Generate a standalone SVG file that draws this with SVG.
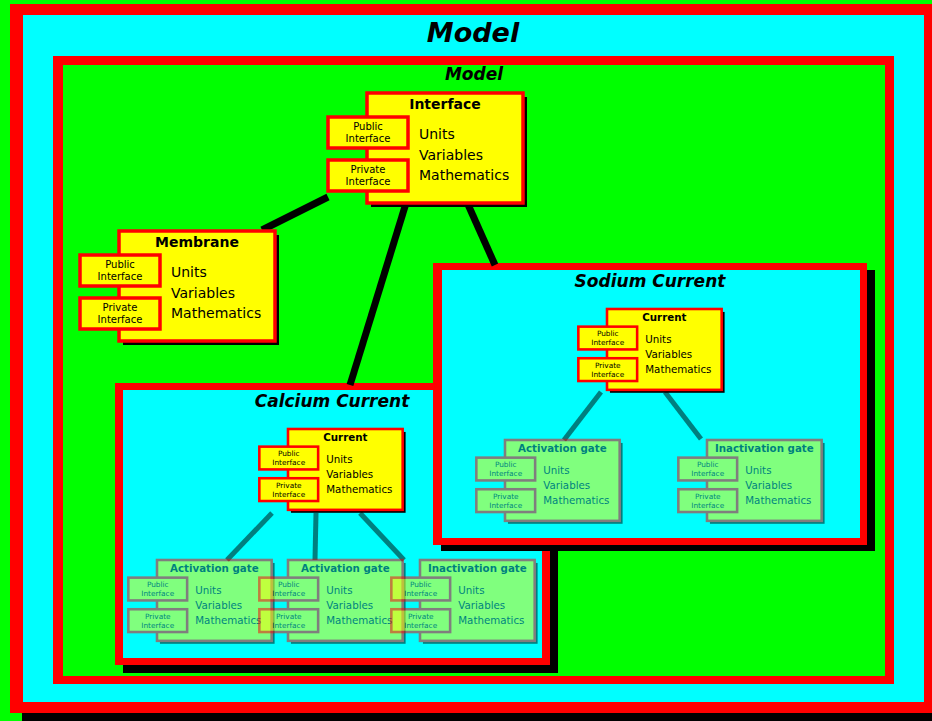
<svg xmlns="http://www.w3.org/2000/svg" width="932" height="721" viewBox="0 0 932 721">
<style>
.ctitle{font-family:"DejaVu Sans",sans-serif;font-weight:bold;font-style:italic;text-anchor:middle;fill:#000}
.ntitle{font-family:"DejaVu Sans",sans-serif;font-weight:bold;font-size:14px;text-anchor:middle;fill:#000}
.itxt{font-family:"DejaVu Sans",sans-serif;font-size:10px;text-anchor:middle;fill:#000}
.btxt{font-family:"DejaVu Sans",sans-serif;font-size:14px;fill:#000}
.shadow{fill:#000}
.main{fill:#ffff00;stroke:#ff0000;stroke-width:3.5}
.port{fill:#ffff00;stroke:#ff0000;stroke-width:3.5}
.link{stroke:#000;stroke-width:7;fill:none}
.sublink{stroke:#000;stroke-opacity:0.5;stroke-width:5;fill:none}
</style>
<rect x="0" y="0" width="932" height="721" fill="#00ff00"/>
<g id="outer-model">
<rect x="22" y="14" width="930" height="720" fill="#000"/>
<rect x="10" y="4" width="940" height="709" fill="#ff0000"/>
<rect x="23" y="15" width="901" height="687" fill="#00ffff"/>
<text class="ctitle" x="473" y="42" font-size="27">Model</text>
</g>
<g id="inner-model">
<rect x="53" y="56" width="841" height="628" fill="#ff0000"/>
<rect x="63" y="65" width="822" height="611" fill="#00ff00"/>
<text class="ctitle" x="474" y="80" font-size="17">Model</text>
</g>
<g id="calcium-current">
<rect x="123" y="391" width="435" height="282" fill="#000"/>
<rect x="115" y="383" width="435" height="282" fill="#ff0000"/>
<rect x="123" y="390" width="419" height="268" fill="#00ffff"/>
<text class="ctitle" x="332" y="407" font-size="17">Calcium Current</text>
</g>
<g id="sodium-current">
<rect x="441" y="270" width="434" height="281" fill="#000"/>
<rect x="433" y="263" width="434" height="282" fill="#ff0000"/>
<rect x="442" y="270" width="418" height="268" fill="#00ffff"/>
<text class="ctitle" x="650" y="287" font-size="17">Sodium Current</text>
</g>
<g id="connectors">
<line class="link" x1="328" y1="197" x2="262" y2="230"/>
<line class="link" x1="407" y1="200" x2="350" y2="385"/>
<line class="link" x1="466" y1="200" x2="495" y2="265"/>
<line class="sublink" x1="601" y1="392" x2="564" y2="440"/>
<line class="sublink" x1="665" y1="392" x2="701" y2="439"/>
<line class="sublink" x1="272" y1="513" x2="227" y2="560"/>
<line class="sublink" x1="316" y1="513" x2="315" y2="560"/>
<line class="sublink" x1="360" y1="513" x2="404" y2="560"/>
</g>
<g id="node-interface" transform="translate(367,93)">
<rect class="shadow" x="4" y="4" width="156" height="110"/>
<rect class="main" x="0" y="0" width="156" height="110"/>
<text class="ntitle" x="78" y="16">Interface</text>
<rect class="port" x="-39" y="24" width="80" height="31"/>
<text class="itxt" x="1" y="37">Public</text><text class="itxt" x="1" y="49">Interface</text>
<rect class="port" x="-39" y="67" width="80" height="31"/>
<text class="itxt" x="1" y="80">Private</text><text class="itxt" x="1" y="92">Interface</text>
<text class="btxt" x="52" y="46">Units</text><text class="btxt" x="52" y="67">Variables</text><text class="btxt" x="52" y="87">Mathematics</text>
</g>
<g id="node-membrane" transform="translate(119,231)">
<rect class="shadow" x="4" y="4" width="156" height="110"/>
<rect class="main" x="0" y="0" width="156" height="110"/>
<text class="ntitle" x="78" y="16">Membrane</text>
<rect class="port" x="-39" y="24" width="80" height="31"/>
<text class="itxt" x="1" y="37">Public</text><text class="itxt" x="1" y="49">Interface</text>
<rect class="port" x="-39" y="67" width="80" height="31"/>
<text class="itxt" x="1" y="80">Private</text><text class="itxt" x="1" y="92">Interface</text>
<text class="btxt" x="52" y="46">Units</text><text class="btxt" x="52" y="67">Variables</text><text class="btxt" x="52" y="87">Mathematics</text>
</g>
<g id="node-sodium-current" transform="translate(607,309) scale(0.735)">
<rect class="shadow" x="4" y="4" width="156" height="110"/>
<rect class="main" x="0" y="0" width="156" height="110"/>
<text class="ntitle" x="78" y="16">Current</text>
<rect class="port" x="-39" y="24" width="80" height="31"/>
<text class="itxt" x="1" y="37">Public</text><text class="itxt" x="1" y="49">Interface</text>
<rect class="port" x="-39" y="67" width="80" height="31"/>
<text class="itxt" x="1" y="80">Private</text><text class="itxt" x="1" y="92">Interface</text>
<text class="btxt" x="52" y="46">Units</text><text class="btxt" x="52" y="67">Variables</text><text class="btxt" x="52" y="87">Mathematics</text>
</g>
<g id="node-sodium-activation" transform="translate(505,440) scale(0.735)" opacity="0.5">
<rect class="shadow" x="4" y="4" width="156" height="110"/>
<rect class="main" x="0" y="0" width="156" height="110"/>
<text class="ntitle" x="78" y="16">Activation gate</text>
<rect class="port" x="-39" y="24" width="80" height="31"/>
<text class="itxt" x="1" y="37">Public</text><text class="itxt" x="1" y="49">Interface</text>
<rect class="port" x="-39" y="67" width="80" height="31"/>
<text class="itxt" x="1" y="80">Private</text><text class="itxt" x="1" y="92">Interface</text>
<text class="btxt" x="52" y="46">Units</text><text class="btxt" x="52" y="67">Variables</text><text class="btxt" x="52" y="87">Mathematics</text>
</g>
<g id="node-sodium-inactivation" transform="translate(707,440) scale(0.735)" opacity="0.5">
<rect class="shadow" x="4" y="4" width="156" height="110"/>
<rect class="main" x="0" y="0" width="156" height="110"/>
<text class="ntitle" x="78" y="16">Inactivation gate</text>
<rect class="port" x="-39" y="24" width="80" height="31"/>
<text class="itxt" x="1" y="37">Public</text><text class="itxt" x="1" y="49">Interface</text>
<rect class="port" x="-39" y="67" width="80" height="31"/>
<text class="itxt" x="1" y="80">Private</text><text class="itxt" x="1" y="92">Interface</text>
<text class="btxt" x="52" y="46">Units</text><text class="btxt" x="52" y="67">Variables</text><text class="btxt" x="52" y="87">Mathematics</text>
</g>
<g id="node-calcium-current" transform="translate(288,429) scale(0.735)">
<rect class="shadow" x="4" y="4" width="156" height="110"/>
<rect class="main" x="0" y="0" width="156" height="110"/>
<text class="ntitle" x="78" y="16">Current</text>
<rect class="port" x="-39" y="24" width="80" height="31"/>
<text class="itxt" x="1" y="37">Public</text><text class="itxt" x="1" y="49">Interface</text>
<rect class="port" x="-39" y="67" width="80" height="31"/>
<text class="itxt" x="1" y="80">Private</text><text class="itxt" x="1" y="92">Interface</text>
<text class="btxt" x="52" y="46">Units</text><text class="btxt" x="52" y="67">Variables</text><text class="btxt" x="52" y="87">Mathematics</text>
</g>
<g id="node-calcium-activation-1" transform="translate(157,560) scale(0.735)" opacity="0.5">
<rect class="shadow" x="4" y="4" width="156" height="110"/>
<rect class="main" x="0" y="0" width="156" height="110"/>
<text class="ntitle" x="78" y="16">Activation gate</text>
<rect class="port" x="-39" y="24" width="80" height="31"/>
<text class="itxt" x="1" y="37">Public</text><text class="itxt" x="1" y="49">Interface</text>
<rect class="port" x="-39" y="67" width="80" height="31"/>
<text class="itxt" x="1" y="80">Private</text><text class="itxt" x="1" y="92">Interface</text>
<text class="btxt" x="52" y="46">Units</text><text class="btxt" x="52" y="67">Variables</text><text class="btxt" x="52" y="87">Mathematics</text>
</g>
<g id="node-calcium-activation-2" transform="translate(288,560) scale(0.735)" opacity="0.5">
<rect class="shadow" x="4" y="4" width="156" height="110"/>
<rect class="main" x="0" y="0" width="156" height="110"/>
<text class="ntitle" x="78" y="16">Activation gate</text>
<rect class="port" x="-39" y="24" width="80" height="31"/>
<text class="itxt" x="1" y="37">Public</text><text class="itxt" x="1" y="49">Interface</text>
<rect class="port" x="-39" y="67" width="80" height="31"/>
<text class="itxt" x="1" y="80">Private</text><text class="itxt" x="1" y="92">Interface</text>
<text class="btxt" x="52" y="46">Units</text><text class="btxt" x="52" y="67">Variables</text><text class="btxt" x="52" y="87">Mathematics</text>
</g>
<g id="node-calcium-inactivation" transform="translate(420,560) scale(0.735)" opacity="0.5">
<rect class="shadow" x="4" y="4" width="156" height="110"/>
<rect class="main" x="0" y="0" width="156" height="110"/>
<text class="ntitle" x="78" y="16">Inactivation gate</text>
<rect class="port" x="-39" y="24" width="80" height="31"/>
<text class="itxt" x="1" y="37">Public</text><text class="itxt" x="1" y="49">Interface</text>
<rect class="port" x="-39" y="67" width="80" height="31"/>
<text class="itxt" x="1" y="80">Private</text><text class="itxt" x="1" y="92">Interface</text>
<text class="btxt" x="52" y="46">Units</text><text class="btxt" x="52" y="67">Variables</text><text class="btxt" x="52" y="87">Mathematics</text>
</g>
</svg>
